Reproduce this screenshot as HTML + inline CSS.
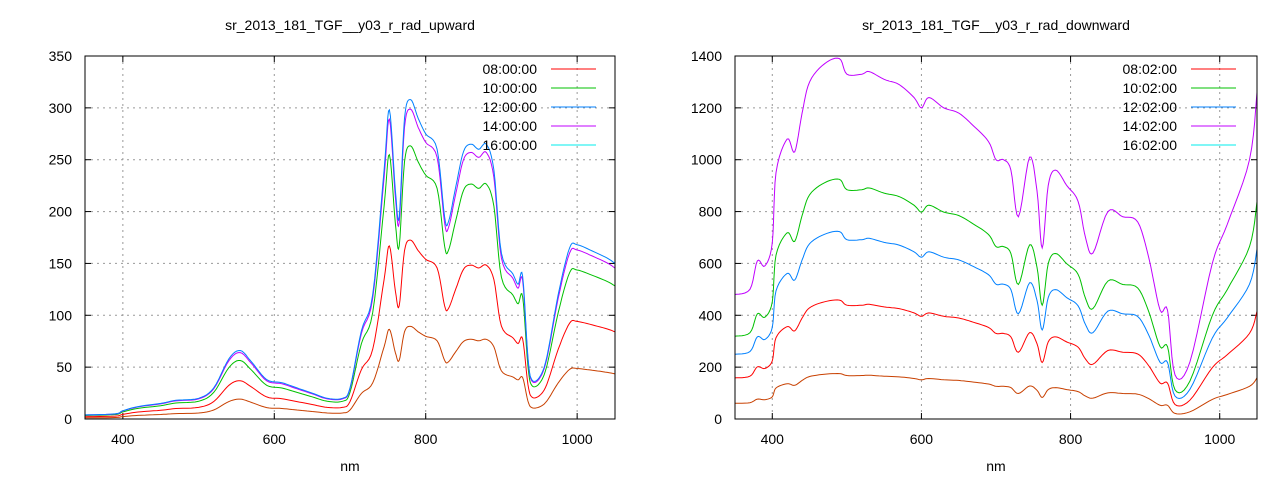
<!DOCTYPE html>
<html><head><meta charset="utf-8"><style>
body{margin:0;background:#fff;width:1280px;height:480px;overflow:hidden}
svg text{font-family:"Liberation Sans",sans-serif;font-size:14px;fill:#000}
</style></head><body>
<svg id="s" width="1280" height="480" xmlns="http://www.w3.org/2000/svg"></svg>
<script>
const S=document.getElementById('s');let h='';
function smooth(pts){let out=[];for(let i=0;i<pts.length-1;i++){const p0=pts[Math.max(0,i-1)],p1=pts[i],p2=pts[i+1],p3=pts[Math.min(pts.length-1,i+2)];
 for(let k=0;k<6;k++){const t=k/6,t2=t*t,t3=t2*t;
  const f=(a,b,c,d)=>0.5*((2*b)+(-a+c)*t+(2*a-5*b+4*c-d)*t2+(-a+3*b-3*c+d)*t3);
  out.push([f(p0[0],p1[0],p2[0],p3[0]),f(p0[1],p1[1],p2[1],p3[1])]);}}
 out.push(pts[pts.length-1]);return out;}
function plot(o){
 const {x0,x1,y0,y1,ymax,ystep,title,base,series,legend,lx}=o;
 const X=v=>x0+(v-350)/700*(x1-x0), Y=v=>y1-(v/ymax)*(y1-y0);
 for(const v of [400,600,800,1000]){h+=`<line x1="${X(v)}" y1="${y0}" x2="${X(v)}" y2="${y1}" stroke="#999" stroke-dasharray="2,4"/>`;
  h+=`<line x1="${X(v)}" y1="${y1}" x2="${X(v)}" y2="${y1-6}" stroke="#000"/><line x1="${X(v)}" y1="${y0}" x2="${X(v)}" y2="${y0+6}" stroke="#000"/>`;
  h+=`<text x="${X(v)}" y="444" text-anchor="middle">${v}</text>`;}
 for(let v=0;v<=ymax;v+=ystep){const y=Y(v);
  if(v>0&&v<ymax)h+=`<line x1="${x0}" y1="${y}" x2="${x1}" y2="${y}" stroke="#999" stroke-dasharray="2,4"/>`;
  h+=`<line x1="${x0}" y1="${y}" x2="${x0+6}" y2="${y}" stroke="#000"/><line x1="${x1}" y1="${y}" x2="${x1-6}" y2="${y}" stroke="#000"/>`;
  h+=`<text x="${x0-13}" y="${y+5}" text-anchor="end">${v}</text>`;}
 for(const [c,f] of series){const pts=smooth(base.map(([n,v])=>[X(n),Y(v*f)]));let p='';
  for(const [a,b] of pts){p+=(p?'L':'M')+a.toFixed(1)+','+Math.min(y1,b).toFixed(1);}
  h+=`<path d="${p}" fill="none" stroke="${c}" stroke-width="1"/>`;}
 const lc=['#ff0000','#00c000','#0080ff','#c000ff','#00eeee'];
 legend.forEach((t,i)=>{const y=69+i*19;
  h+=`<text x="${lx}" y="${y+5}" text-anchor="end">${t}</text><line x1="${lx+14}" y1="${y}" x2="${lx+59}" y2="${y}" stroke="${lc[i]}"/>`;});
 h+=`<rect x="${x0}" y="${y0}" width="${x1-x0}" height="${y1-y0}" fill="none" stroke="#000"/>`;
 h+=`<text x="${(x0+x1)/2}" y="30" text-anchor="middle">${title}</text><text x="${(x0+x1)/2}" y="471" text-anchor="middle">nm</text>`;
}
const L=[[350,4],[390,5],[400,8],[420,12],[450,15],[470,18],[500,20],[520,30],[540,58],[555,66],[570,55],[590,38],[610,35],[630,30],[650,25],[670,20],[690,20],[700,30],[715,85],[730,120],[745,240],[752,298],[760,220],[765,195],[772,290],[780,308],[790,290],[800,275],[815,260],[825,195],[830,190],[840,225],[850,258],[860,265],[870,260],[880,265],[890,240],[900,160],[915,140],[922,130],[928,138],[935,60],[940,38],[950,40],[960,60],[975,120],[990,165],[1000,168],[1020,162],[1040,155],[1050,150]];
plot({x0:85,x1:615,y0:56,y1:419,ymax:350,ystep:50,title:'sr_2013_181_TGF__y03_r_rad_upward',base:L,lx:537,
 legend:['08:00:00','10:00:00','12:00:00','14:00:00','16:00:00'],
 series:[['#c84000',0.29],['#ff0000',0.56],['#00c000',0.855],['#c000ff',0.97],['#0080ff',1]]});
const R=[[350,480],[370,500],[380,610],[390,590],[400,680],[405,950],[420,1080],[430,1030],[440,1180],[450,1300],[470,1370],[490,1390],[500,1330],[520,1330],[530,1340],[550,1310],[570,1290],[590,1240],[600,1200],[610,1240],[630,1200],[650,1180],[670,1130],[690,1070],[700,1000],[710,1000],[720,960],[730,780],[745,1010],[755,880],[762,660],[770,900],[780,960],[795,900],[810,840],[820,700],[830,640],[850,800],[870,780],[890,760],[905,620],[920,420],[930,420],[940,170],[960,220],[990,600],[1010,750],[1040,1000],[1050,1260]];
plot({x0:735,x1:1257,y0:56,y1:419,ymax:1400,ystep:200,title:'sr_2013_181_TGF__y03_r_rad_downward',base:R,lx:1177,
 legend:['08:02:00','10:02:00','12:02:00','14:02:00','16:02:00'],
 series:[['#c84000',0.126],['#ff0000',0.33],['#0080ff',0.52],['#00c000',0.665],['#c000ff',1]]});
S.innerHTML=h;
</script>
</body></html>
